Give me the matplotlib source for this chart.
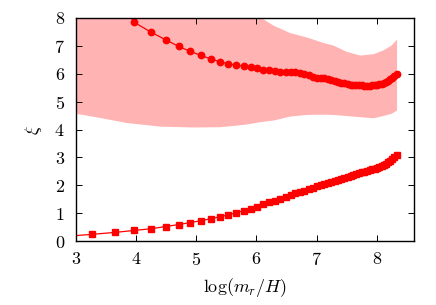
import matplotlib
import numpy as np

matplotlib.use("Agg")
import matplotlib.pyplot as plt

# log(m_r/H) sample points shared by both series
log_mr_h = [2.800, 3.270, 3.652, 3.972, 4.248, 4.490, 4.706, 4.901, 5.079, 5.242,
            5.393, 5.533, 5.665, 5.787, 5.903, 6.013, 6.117, 6.216, 6.310, 6.400,
            6.486, 6.568, 6.647, 6.723, 6.797, 6.868, 6.936, 7.002, 7.066, 7.128,
            7.188, 7.246, 7.303, 7.358, 7.412, 7.464, 7.515, 7.565, 7.613, 7.661,
            7.707, 7.752, 7.796, 7.840, 7.882, 7.923, 7.964, 8.004, 8.043, 8.081,
            8.119, 8.155, 8.192, 8.227, 8.262, 8.296, 8.330]

xi_circles = [12.5, 10.2, 8.85, 7.84, 7.49, 7.22, 6.98, 6.80, 6.66, 6.53,
              6.43, 6.36, 6.31, 6.27, 6.23, 6.19, 6.15, 6.12, 6.10, 6.08,
              6.07, 6.06, 6.05, 6.02, 5.99, 5.94, 5.90, 5.86, 5.84, 5.83,
              5.81, 5.78, 5.75, 5.71, 5.68, 5.66, 5.63, 5.61, 5.60, 5.59,
              5.58, 5.58, 5.57, 5.57, 5.57, 5.58, 5.59, 5.60, 5.62, 5.64,
              5.67, 5.71, 5.75, 5.80, 5.86, 5.92, 5.98]

xi_squares = [0.16, 0.24, 0.31, 0.38, 0.44, 0.52, 0.59, 0.66, 0.73, 0.80,
              0.87, 0.94, 1.01, 1.09, 1.16, 1.23, 1.31, 1.39, 1.45, 1.52,
              1.58, 1.65, 1.71, 1.76, 1.81, 1.86, 1.91, 1.96, 2.01, 2.05,
              2.09, 2.13, 2.16, 2.20, 2.23, 2.26, 2.30, 2.33, 2.36, 2.40,
              2.43, 2.46, 2.49, 2.52, 2.55, 2.58, 2.60, 2.63, 2.67, 2.70,
              2.74, 2.78, 2.83, 2.88, 2.94, 3.00, 3.07]

# spread band around the upper series
band_x = [2.80, 3.00, 3.40, 3.84, 4.40, 4.95, 5.39, 5.77, 5.90, 6.05, 6.28,
          6.55, 6.83, 7.11, 7.27, 7.50, 7.72, 7.94, 8.10, 8.24, 8.33]
band_lo = [4.65, 4.58, 4.43, 4.25, 4.12, 4.09, 4.10, 4.18, 4.22, 4.28, 4.34,
           4.48, 4.54, 4.55, 4.54, 4.50, 4.46, 4.42, 4.50, 4.58, 4.70]
band_hi = [11.0, 10.6, 10.0, 9.5, 9.0, 8.8, 8.6, 8.35, 8.25, 8.05, 7.74,
           7.48, 7.32, 7.12, 7.03, 6.80, 6.67, 6.72, 6.85, 7.03, 7.24]

plt.rcParams["font.family"] = "serif"
plt.rcParams["font.serif"] = ["cmr10"]
plt.rcParams["mathtext.fontset"] = "cm"
plt.rcParams["axes.formatter.use_mathtext"] = True

fig = plt.figure(figsize=(4.36, 3.05), dpi=100)
ax = fig.add_axes([0.1743, 0.2098, 0.7752, 0.7312])

ax.fill_between(band_x, band_lo, band_hi, color="#ffb3b3", linewidth=0)
ax.plot(log_mr_h, xi_circles, color="#ff0000", lw=0.9, marker="o", ms=4.6)
ax.plot(log_mr_h, xi_squares, color="#ff0000", lw=0.9, marker="s", ms=4.3)

ax.set_xlim(3, 8.62)
ax.set_ylim(0, 8)
ax.set_xticks(np.arange(3, 9))
ax.set_yticks(np.arange(0, 9))
ax.tick_params(direction="in", top=True, right=True, length=4, width=0.7,
               labelsize=13, pad=7)
ax.tick_params(axis="y", pad=8)
for spine in ax.spines.values():
    spine.set_linewidth(1.0)

ax.set_xlabel(r"$\log(m_r/H)$", fontsize=13, labelpad=6)
ax.set_ylabel(r"$\xi$", fontsize=13, labelpad=7)

fig.savefig("out.png", dpi=100)
